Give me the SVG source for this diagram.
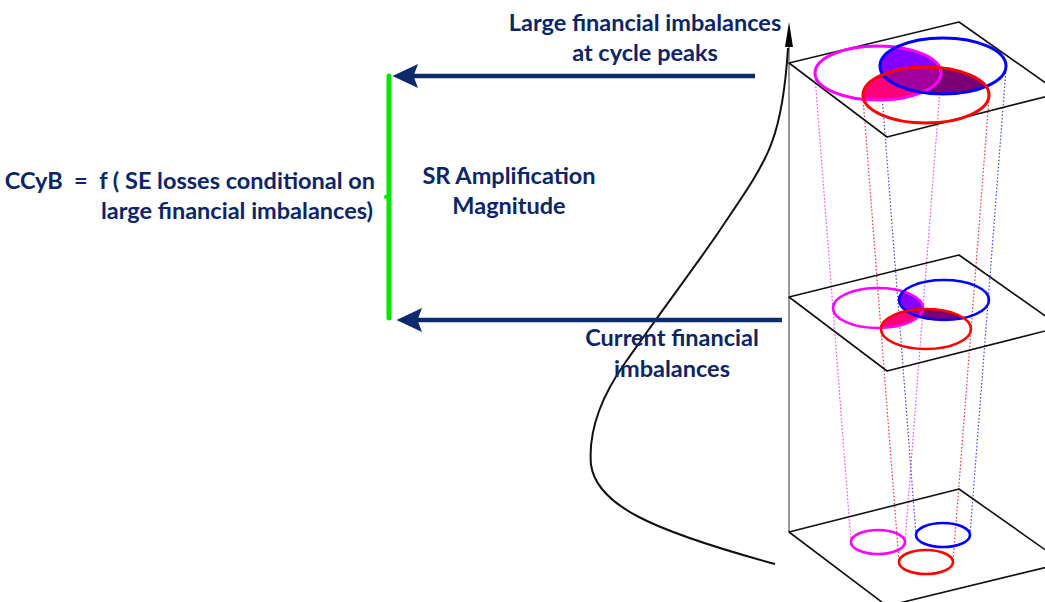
<svg xmlns="http://www.w3.org/2000/svg" width="1045" height="602" viewBox="0 0 1045 602">
<style>
.t{font-family:Lato,"Open Sans","Liberation Sans",sans-serif;font-weight:bold;font-size:23.5px;fill:#0c2566}
.plane{fill:none;stroke:#111;stroke-width:1.6;stroke-linejoin:round}
.dm{stroke:#ff40ff;stroke-width:1.2;stroke-dasharray:1.5 2;fill:none}
.dr{stroke:#ff3030;stroke-width:1.2;stroke-dasharray:1.5 2;fill:none}
.db{stroke:#4040ff;stroke-width:1.2;stroke-dasharray:1.5 2;fill:none}
.em{fill:none;stroke:#ff00ff}
.er{fill:none;stroke:#ff0000}
.eb{fill:none;stroke:#0000ff}
.arr{stroke:#0d2a6b;stroke-width:4.5;fill:none;marker-end:url(#ah)}
</style>
<defs>
<marker id="ah" markerUnits="userSpaceOnUse" markerWidth="30" markerHeight="30" refX="10" refY="0" orient="auto" viewBox="0 -10 20 20" overflow="visible">
<path d="M0,-8 L17,0 L0,8 L3,0 z" fill="#0d2a6b"/>
</marker>
<clipPath id="cM1"><ellipse cx="878" cy="73" rx="63" ry="27"/></clipPath>
<clipPath id="cR1"><ellipse cx="926" cy="95" rx="63" ry="28"/></clipPath>
<clipPath id="cM2"><ellipse cx="878" cy="308" rx="45" ry="20"/></clipPath>
<clipPath id="cR2"><ellipse cx="926" cy="329" rx="45" ry="20"/></clipPath>
</defs>

<g id="axis">
<line x1="789" y1="40" x2="789" y2="532" stroke="#808080" stroke-width="1.6"/>
<polygon points="789,22 785,47 793,47" fill="#000"/>
</g>

<g id="curve">
<path d="M788,48 C786,80 782,115 772,142 C762,170 740,200 720,230 C700,260 662,310 625,363 C601,397 588,430 591,465 C597,505 650,530 775,564" fill="none" stroke="#111" stroke-width="2"/>
</g>

<g id="projections">
<line class="dm" x1="815" y1="76" x2="851" y2="542"/>
<line class="dm" x1="941" y1="76" x2="905" y2="542"/>
<line class="dr" x1="863" y1="98" x2="899" y2="562"/>
<line class="dr" x1="989" y1="98" x2="953" y2="562"/>
<line class="db" x1="880" y1="69" x2="916" y2="535"/>
<line class="db" x1="1006" y1="69" x2="970" y2="535"/>
</g>

<g id="plane-top">
<polygon class="plane" points="789,63 959,22 1060,93 887,137"/>
<g clip-path="url(#cM1)">
<ellipse cx="926" cy="95" rx="63" ry="28" fill="#ff0078"/>
<ellipse cx="943" cy="66" rx="63" ry="28" fill="#8400ff"/>
</g>
<g clip-path="url(#cR1)">
<ellipse cx="943" cy="66" rx="63" ry="28" fill="#7a0074"/>
<g clip-path="url(#cM1)"><ellipse cx="943" cy="66" rx="63" ry="28" fill="#a2009a"/></g>
</g>
<ellipse class="em" cx="878" cy="73" rx="63" ry="27" stroke-width="3"/>
<ellipse class="eb" cx="943" cy="66" rx="63" ry="28" stroke-width="3"/>
<ellipse class="er" cx="926" cy="95" rx="63" ry="28" stroke-width="3"/>
</g>

<g id="plane-mid">
<polygon class="plane" points="789,297 959,255 1061,327 887,371"/>
<g clip-path="url(#cM2)">
<ellipse cx="926" cy="329" rx="45" ry="20" fill="#ff0078"/>
<ellipse cx="944" cy="300" rx="45" ry="20" fill="#8400ff"/>
</g>
<g clip-path="url(#cR2)">
<ellipse cx="944" cy="300" rx="45" ry="20" fill="#7a0074"/>
<g clip-path="url(#cM2)"><ellipse cx="944" cy="300" rx="45" ry="20" fill="#a2009a"/></g>
</g>
<ellipse class="em" cx="878" cy="308" rx="45" ry="20" stroke-width="2.6"/>
<ellipse class="eb" cx="944" cy="300" rx="45" ry="20" stroke-width="2.6"/>
<ellipse class="er" cx="926" cy="329" rx="45" ry="20" stroke-width="2.6"/>
</g>

<g id="plane-bottom">
<polygon class="plane" points="789,532 959,489 1064,563 887,606"/>
<ellipse class="em" cx="878" cy="542" rx="27" ry="12" stroke-width="2.6"/>
<ellipse class="eb" cx="943" cy="535" rx="27" ry="12" stroke-width="2.6"/>
<ellipse class="er" cx="926" cy="562" rx="27" ry="12" stroke-width="2.6"/>
</g>

<g id="connectors">
<line class="arr" x1="755" y1="76" x2="403" y2="76"/>
<line class="arr" x1="782" y1="320" x2="407" y2="320"/>
</g>

<g id="bracket">
<line x1="389" y1="76" x2="389" y2="318" stroke="#00e800" stroke-width="5" stroke-linecap="round"/>
<circle cx="386" cy="197" r="2" fill="#00e800"/>
</g>

<g id="label-peaks">
<text class="t" x="645" y="31" text-anchor="middle">Large financial imbalances</text>
<text class="t" x="645" y="61" text-anchor="middle">at cycle peaks</text>
</g>
<g id="label-sr">
<text class="t" x="509" y="184" text-anchor="middle">SR Amplification</text>
<text class="t" x="509" y="214" text-anchor="middle">Magnitude</text>
</g>
<g id="label-ccyb">
<text class="t" x="375" y="189" text-anchor="end" xml:space="preserve">CCyB  =  f ( SE losses conditional on</text>
<text class="t" x="373" y="219" text-anchor="end">large financial imbalances)</text>
</g>
<g id="label-current">
<text class="t" x="672" y="346" text-anchor="middle">Current financial</text>
<text class="t" x="672" y="377" text-anchor="middle">imbalances</text>
</g>
</svg>
